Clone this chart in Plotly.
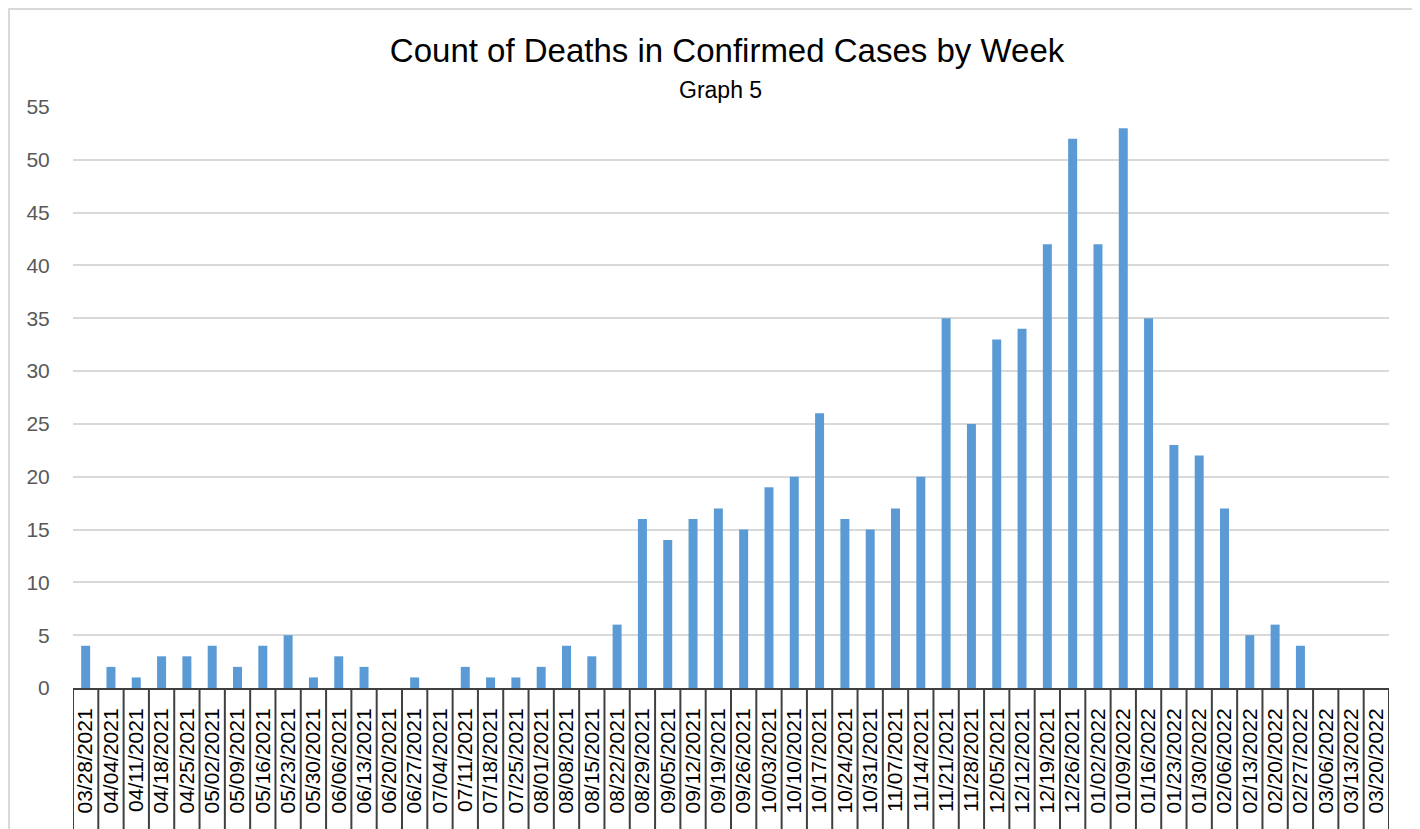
import plotly.graph_objects as go

weeks = [
    "03/28/2021", "04/04/2021", "04/11/2021", "04/18/2021", "04/25/2021",
    "05/02/2021", "05/09/2021", "05/16/2021", "05/23/2021", "05/30/2021",
    "06/06/2021", "06/13/2021", "06/20/2021", "06/27/2021", "07/04/2021",
    "07/11/2021", "07/18/2021", "07/25/2021", "08/01/2021", "08/08/2021",
    "08/15/2021", "08/22/2021", "08/29/2021", "09/05/2021", "09/12/2021",
    "09/19/2021", "09/26/2021", "10/03/2021", "10/10/2021", "10/17/2021",
    "10/24/2021", "10/31/2021", "11/07/2021", "11/14/2021", "11/21/2021",
    "11/28/2021", "12/05/2021", "12/12/2021", "12/19/2021", "12/26/2021",
    "01/02/2022", "01/09/2022", "01/16/2022", "01/23/2022", "01/30/2022",
    "02/06/2022", "02/13/2022", "02/20/2022", "02/27/2022", "03/06/2022",
    "03/13/2022", "03/20/2022",
]
deaths = [
    4, 2, 1, 3, 3, 4, 2, 4, 5, 1,
    3, 2, 0, 1, 0, 2, 1, 1, 2, 4,
    3, 6, 16, 14, 16, 17, 15, 19, 20, 26,
    16, 15, 17, 20, 35, 25, 33, 34, 42, 52,
    42, 53, 35, 23, 22, 17, 5, 6, 4, 0,
    0, 0,
]
y_ticks = list(range(0, 60, 5))

FONT = "Liberation Sans"

fig = go.Figure(
    go.Bar(
        x=weeks,
        y=deaths,
        marker=dict(color="#5B9BD5", line=dict(width=0)),
        hovertemplate="%{x}<br>Deaths: %{y}<extra></extra>",
    )
)

# category separators below the axis (Excel-style boxed labels)
shapes = []
for i in range(len(weeks) + 1):
    shapes.append(dict(
        type="line", xref="x", yref="paper",
        x0=i - 0.5, x1=i - 0.5, y0=0, y1=-0.3,
        line=dict(color="#404040", width=2),
    ))

# chart border
shapes.append(dict(
    type="rect", xref="paper", yref="paper",
    x0=-0.0486, x1=1.0182, y0=-0.3, y1=1.1687,
    line=dict(color="#D9D9D9", width=2), layer="below",
))

fig.update_layout(
    width=1420,
    height=829,
    margin=dict(l=65, r=39, t=99, b=149),
    paper_bgcolor="white",
    plot_bgcolor="white",
    font=dict(family=FONT, color="#595959"),
    bargap=0.645,
    showlegend=False,
    title=dict(
        text="Count of Deaths in Confirmed Cases by Week",
        font=dict(family=FONT, size=33, color="#000000"),
        x=0.497, xref="paper", xanchor="center",
        y=1 - 42 / 829, yref="container", yanchor="middle",
    ),
    annotations=[dict(
        text="Graph 5", xref="paper", yref="paper",
        x=0.492, y=1.029, xanchor="center", yanchor="middle",
        showarrow=False, font=dict(family=FONT, size=23, color="#000000"),
    )],
    shapes=shapes,
    xaxis=dict(
        type="category",
        tickangle=-90,
        tickfont=dict(family=FONT, size=21, color="#000000"),
        ticks="outside", ticklen=10, tickcolor="rgba(0,0,0,0)",
        showline=True, linecolor="#404040", linewidth=2,
        showgrid=False,
        range=[-0.5, len(weeks) - 0.5],
    ),
    yaxis=dict(
        range=[0, 55],
        tickvals=y_ticks,
        tickfont=dict(family=FONT, size=21, color="#595959"),
        ticks="outside", ticklen=18, tickcolor="rgba(0,0,0,0)",
        showgrid=True, gridcolor="#D9D9D9", gridwidth=2,
        zeroline=False, showline=False,
    ),
)

fig.write_html("out.html")
